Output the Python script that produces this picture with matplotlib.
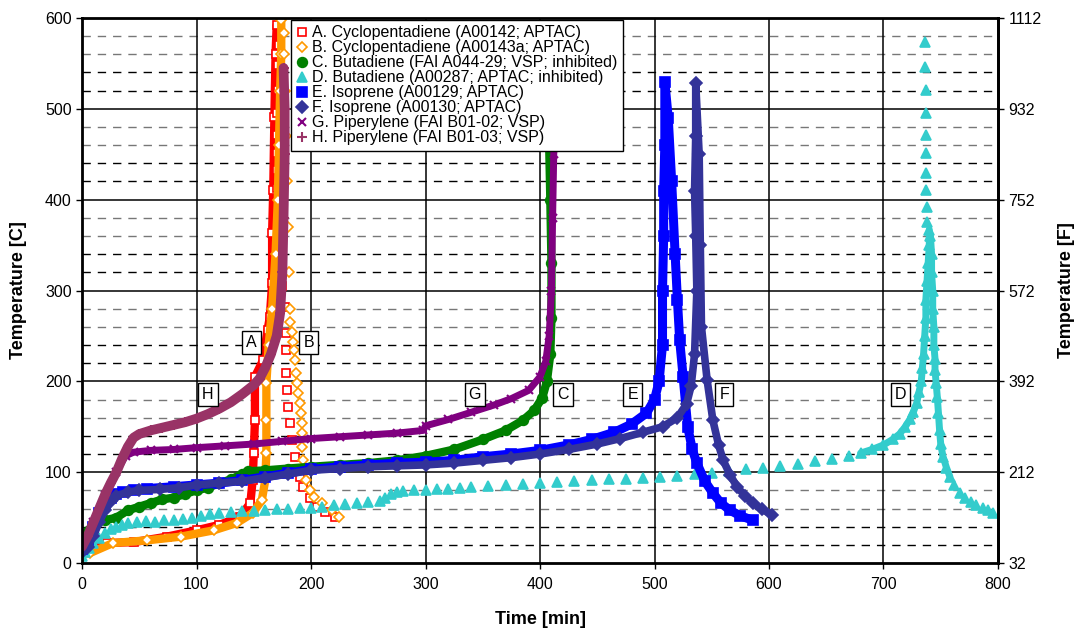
import matplotlib.pyplot as plt

plt.rcParams['font.family'] = ['Liberation Sans', 'DejaVu Sans']

# A. Cyclopentadiene (A00142; APTAC)
a_time = [0, 10, 22, 45, 74, 100, 120, 138, 147, 149, 150, 151, 151, 158, 162, 164, 166, 166,
          167, 168, 169, 170, 172, 171, 171, 170, 170, 170, 170, 170, 171, 171, 172, 173, 175,
          177, 178, 178, 178, 179, 180, 182, 183, 186, 190, 193, 199, 205, 212, 221]
a_temp = [18, 20, 22, 23, 29, 36, 42, 51, 66, 91, 121, 157, 205, 223, 256, 271, 308, 363,
          411, 491, 560, 592, 570, 548, 521, 495, 471, 451, 433, 413, 390, 370, 350, 330, 305,
          282, 253, 234, 209, 190, 172, 154, 135, 117, 95, 84, 72, 62, 56, 51]

# B. Cyclopentadiene (A00143a; APTAC)
b_time = [0, 7, 27, 57, 86, 115, 135, 149, 157, 160, 161, 161, 161, 163, 166, 169, 171, 172,
          173, 174, 174, 176, 176, 177, 178, 179, 180, 181, 182, 182, 183, 184, 185, 186, 187,
          188, 189, 190, 191, 192, 192, 192, 193, 196, 199, 203, 210, 218, 224]
b_temp = [10, 11, 22, 25, 29, 36, 44, 55, 69, 91, 121, 157, 198, 240, 280, 340, 400, 460,
          520, 560, 598, 583, 560, 520, 470, 420, 370, 320, 280, 265, 254, 243, 234, 223, 209,
          198, 187, 176, 165, 154, 143, 128, 113, 91, 80, 73, 66, 58, 51]

# C. Butadiene (FAI A044-29; VSP; inhibited)
c_time = [0, 5, 10, 20, 30, 40, 50, 60, 70, 80, 90, 100, 110, 120, 130, 140, 145, 160, 180,
          200, 225, 250, 275, 300, 325, 350, 370, 385, 395, 402, 406, 409, 410, 410, 409, 408]
c_temp = [22, 35, 43, 47, 50, 58, 62, 66, 70, 72, 76, 80, 83, 88, 92, 98, 101, 102, 104,
          106, 108, 110, 113, 118, 125, 136, 146, 157, 168, 182, 200, 230, 270, 330, 400, 460]

# D. Butadiene (A00287; APTAC; inhibited)
d_time = [0, 3, 6, 10, 15, 20, 25, 30, 35, 40, 48, 56, 64, 72, 80, 88, 96, 104, 112, 120,
          130, 140, 150, 160, 170, 180, 190, 200, 210, 220, 230, 240, 250, 260, 265, 270, 275,
          280, 290, 300, 310, 320, 330, 340, 355, 370, 385, 400, 415, 430, 445, 460, 475, 490,
          505, 520, 535, 550, 565, 580, 595, 610, 625, 640, 655, 670, 680, 690, 700, 708, 714,
          719, 723, 726, 729, 731, 733, 734, 735, 736, 737, 737, 738, 739, 740, 740,
          738, 738, 737, 737, 737, 737, 737, 737, 736, 736,
          741, 742, 742, 743, 743, 744, 744, 745, 745, 746, 747, 748, 749, 750, 752, 755, 758,
          762, 767, 771, 776, 781, 787, 791, 796]
d_temp = [8, 12, 16, 22, 28, 33, 37, 40, 42, 44, 45, 46, 45, 47, 47, 49, 50, 52, 54, 55,
          56, 57, 57, 58, 59, 60, 61, 61, 62, 64, 65, 66, 67, 68, 72, 76, 78,
          79, 80, 80, 81, 82, 83, 84, 85, 86, 87, 88, 89, 90, 91, 92, 93, 94,
          95, 96, 98, 99, 101, 103, 105, 107, 109, 112, 115, 118, 121, 125, 130, 136, 142,
          150, 158, 166, 176, 188, 200, 215, 230, 250, 270, 290, 310, 330, 350, 367,
          375, 392, 411, 429, 451, 471, 495, 521, 546, 574,
          360, 340, 320, 300, 280, 260, 240, 225, 212, 198, 183, 165, 146, 131, 117, 105, 95,
          86, 77, 72, 67, 64, 61, 58, 55]

# E. Isoprene (A00129; APTAC)
e_time = [0, 5, 10, 15, 20, 25, 30, 36, 45, 57, 80, 100, 120, 140, 160, 180, 200, 225, 250,
          275, 300, 325, 350, 375, 400, 425, 445, 465, 480, 493, 500, 504, 507, 507, 508, 508,
          509, 509, 512, 515, 518, 520, 522, 525, 529, 533, 537, 544, 551, 558, 566, 575, 586]
e_temp = [15, 25, 40, 55, 65, 72, 76, 78, 80, 82, 84, 86, 88, 91, 95, 99, 103, 106, 108,
          110, 111, 113, 117, 120, 124, 130, 136, 144, 153, 165, 180, 200, 240, 300, 360, 410,
          460, 530, 490, 420, 340, 290, 245, 205, 150, 125, 110, 90, 77, 66, 58, 52, 47]

# F. Isoprene (A00130; APTAC)
f_time = [0, 5, 10, 15, 20, 25, 30, 40, 50, 68, 85, 100, 120, 140, 160, 180, 200, 225, 250,
          275, 300, 325, 350, 375, 400, 425, 450, 470, 490, 507, 520, 528, 532, 535, 537, 536,
          535, 536, 536, 539, 540, 541, 546, 551, 556, 560, 566, 572, 579, 586, 594, 603]
f_temp = [12, 18, 30, 45, 58, 68, 74, 78, 80, 81, 83, 86, 88, 90, 94, 98, 102, 104, 106,
          107, 108, 110, 113, 116, 120, 125, 131, 137, 144, 150, 160, 175, 195, 230, 300, 360,
          410, 470, 528, 450, 350, 260, 201, 157, 130, 113, 97, 84, 74, 66, 59, 53]

# G. Piperylene (FAI B01-02; VSP)
g_time = [0, 10, 20, 30, 38, 45, 60, 80, 100, 125, 150, 175, 200, 225, 250, 275, 298, 300,
          320, 340, 360, 375, 390, 400, 405, 408, 410, 411, 412, 414, 415]
g_temp = [20, 45, 75, 100, 118, 122, 124, 125, 127, 129, 131, 134, 137, 139, 141, 143, 146,
          151, 158, 166, 174, 181, 190, 205, 222, 250, 300, 380, 450, 500, 526]

# H. Piperylene (FAI B01-03; VSP)
h_time = [0, 5, 10, 15, 20, 25, 30, 35, 40, 45, 50, 60, 70, 80, 90, 100, 110, 120, 130, 140,
          150, 155, 160, 165, 170, 173, 175, 176, 177, 177, 176]
h_temp = [18, 30, 45, 60, 75, 88, 100, 115, 128, 138, 142, 146, 149, 152, 155, 159, 164, 170,
          177, 186, 196, 203, 215, 230, 250, 275, 320, 380, 450, 500, 545]

tags = ['A', 'B', 'H', 'G', 'C', 'E', 'F', 'D']
tag_time = [148, 198, 110, 343, 420, 481, 561, 715]
tag_temp = [243, 243, 185, 185, 185, 185, 185, 185]

fig = plt.figure(figsize=(10.81, 6.29), dpi=100)
ax = fig.add_axes([0.0759, 0.1049, 0.8473, 0.8665])

# dashed minor grid every 20 C, solid major grid every 100
for v in range(20, 600, 20):
    if v % 100 == 0:
        ax.axhline(v, color='black', lw=1.1, zorder=0)
    else:
        c = '#777777' if v % 100 >= 60 else 'black'
        ax.axhline(v, color=c, lw=1.0, ls=(0, (6, 5)), zorder=0)
for v in range(100, 800, 100):
    ax.axvline(v, color='black', lw=1.1, zorder=0)


def draw(t, y, color, marker, ms, label, bands=(), band_lw=5, hollow=False, mew=1.2):
    # dense stretches of the record are filled in with a thick line under the markers
    for i0, i1 in bands:
        ax.plot(t[i0:i1], y[i0:i1], color=color, lw=band_lw, solid_capstyle='round', zorder=2)
    ax.plot(t, y, ls='none', marker=marker, ms=ms, color=color,
            mfc='white' if hollow else color, mec=color, mew=mew, label=label, zorder=2)


draw(a_time, a_temp, '#FF0000', 's', 6, 'A. Cyclopentadiene (A00142; APTAC)',
     bands=[(0, 22)], band_lw=6, hollow=True)
draw(b_time, b_temp, '#FF9900', 'D', 5, 'B. Cyclopentadiene (A00143a; APTAC)',
     bands=[(0, 21)], band_lw=6, hollow=True)
draw(c_time, c_temp, '#008000', 'o', 7, 'C. Butadiene (FAI A044-29; VSP; inhibited)',
     bands=[(0, len(c_time))], band_lw=6)
draw(d_time, d_temp, '#33CCCC', '^', 7, 'D. Butadiene (A00287; APTAC; inhibited)',
     bands=[(66, 86), (96, 113)], band_lw=5)
draw(e_time, e_temp, '#0000FF', 's', 6.5, 'E. Isoprene (A00129; APTAC)',
     bands=[(0, len(e_time))], band_lw=6.5)
draw(f_time, f_temp, '#333399', 'D', 6, 'F. Isoprene (A00130; APTAC)',
     bands=[(0, len(f_time))], band_lw=5.5)
draw(g_time, g_temp, '#800080', 'x', 6, 'G. Piperylene (FAI B01-02; VSP)',
     bands=[(0, len(g_time))], band_lw=5, mew=1.5)
draw(h_time, h_temp, '#993366', '+', 7, 'H. Piperylene (FAI B01-03; VSP)',
     bands=[(0, len(h_time))], band_lw=7, mew=1.5)

for s, x, y in zip(tags, tag_time, tag_temp):
    ax.text(x, y, s, fontsize=11.5, ha='center', va='center', zorder=4,
            bbox=dict(boxstyle='square,pad=0.25', fc='white', ec='black', lw=1))

ax.set_xlim(0, 800)
ax.set_ylim(0, 600)
ax.set_xticks(range(0, 801, 100))
ax.set_yticks(range(0, 601, 100))
ax.tick_params(labelsize=11.5, direction='out', length=4, width=1)
ax.tick_params(axis='x', pad=6)
for sp in ax.spines.values():
    sp.set_linewidth(2)
ax.set_xlabel('Time [min]', fontsize=13, fontweight='bold')
ax.set_ylabel('Temperature [C]', fontsize=13, fontweight='bold')
ax.xaxis.set_label_coords(0.5, -0.088)
ax.yaxis.set_label_coords(-0.06, 0.5)

ax2 = ax.twinx()
ax2.set_ylim(32, 1112)
ax2.set_yticks(range(32, 1113, 180))
ax2.tick_params(labelsize=11.5, direction='out', length=4, width=1)
ax2.spines['right'].set_linewidth(2)
ax2.set_ylabel('Temperature [F]', fontsize=13, fontweight='bold')
ax2.yaxis.set_label_coords(1.066, 0.5)

# legend on the twin axes so it sits above every series
handles, labels = ax.get_legend_handles_labels()
leg = ax2.legend(handles, labels, loc='upper left', bbox_to_anchor=(0.228, 0.997),
                 borderaxespad=0, fontsize=11.5, handlelength=0.7, handletextpad=0.3,
                 labelspacing=0.0, borderpad=0.35, fancybox=False, framealpha=1,
                 edgecolor='black')
leg.get_frame().set_linewidth(1)

fig.savefig('out.png', dpi=100)
